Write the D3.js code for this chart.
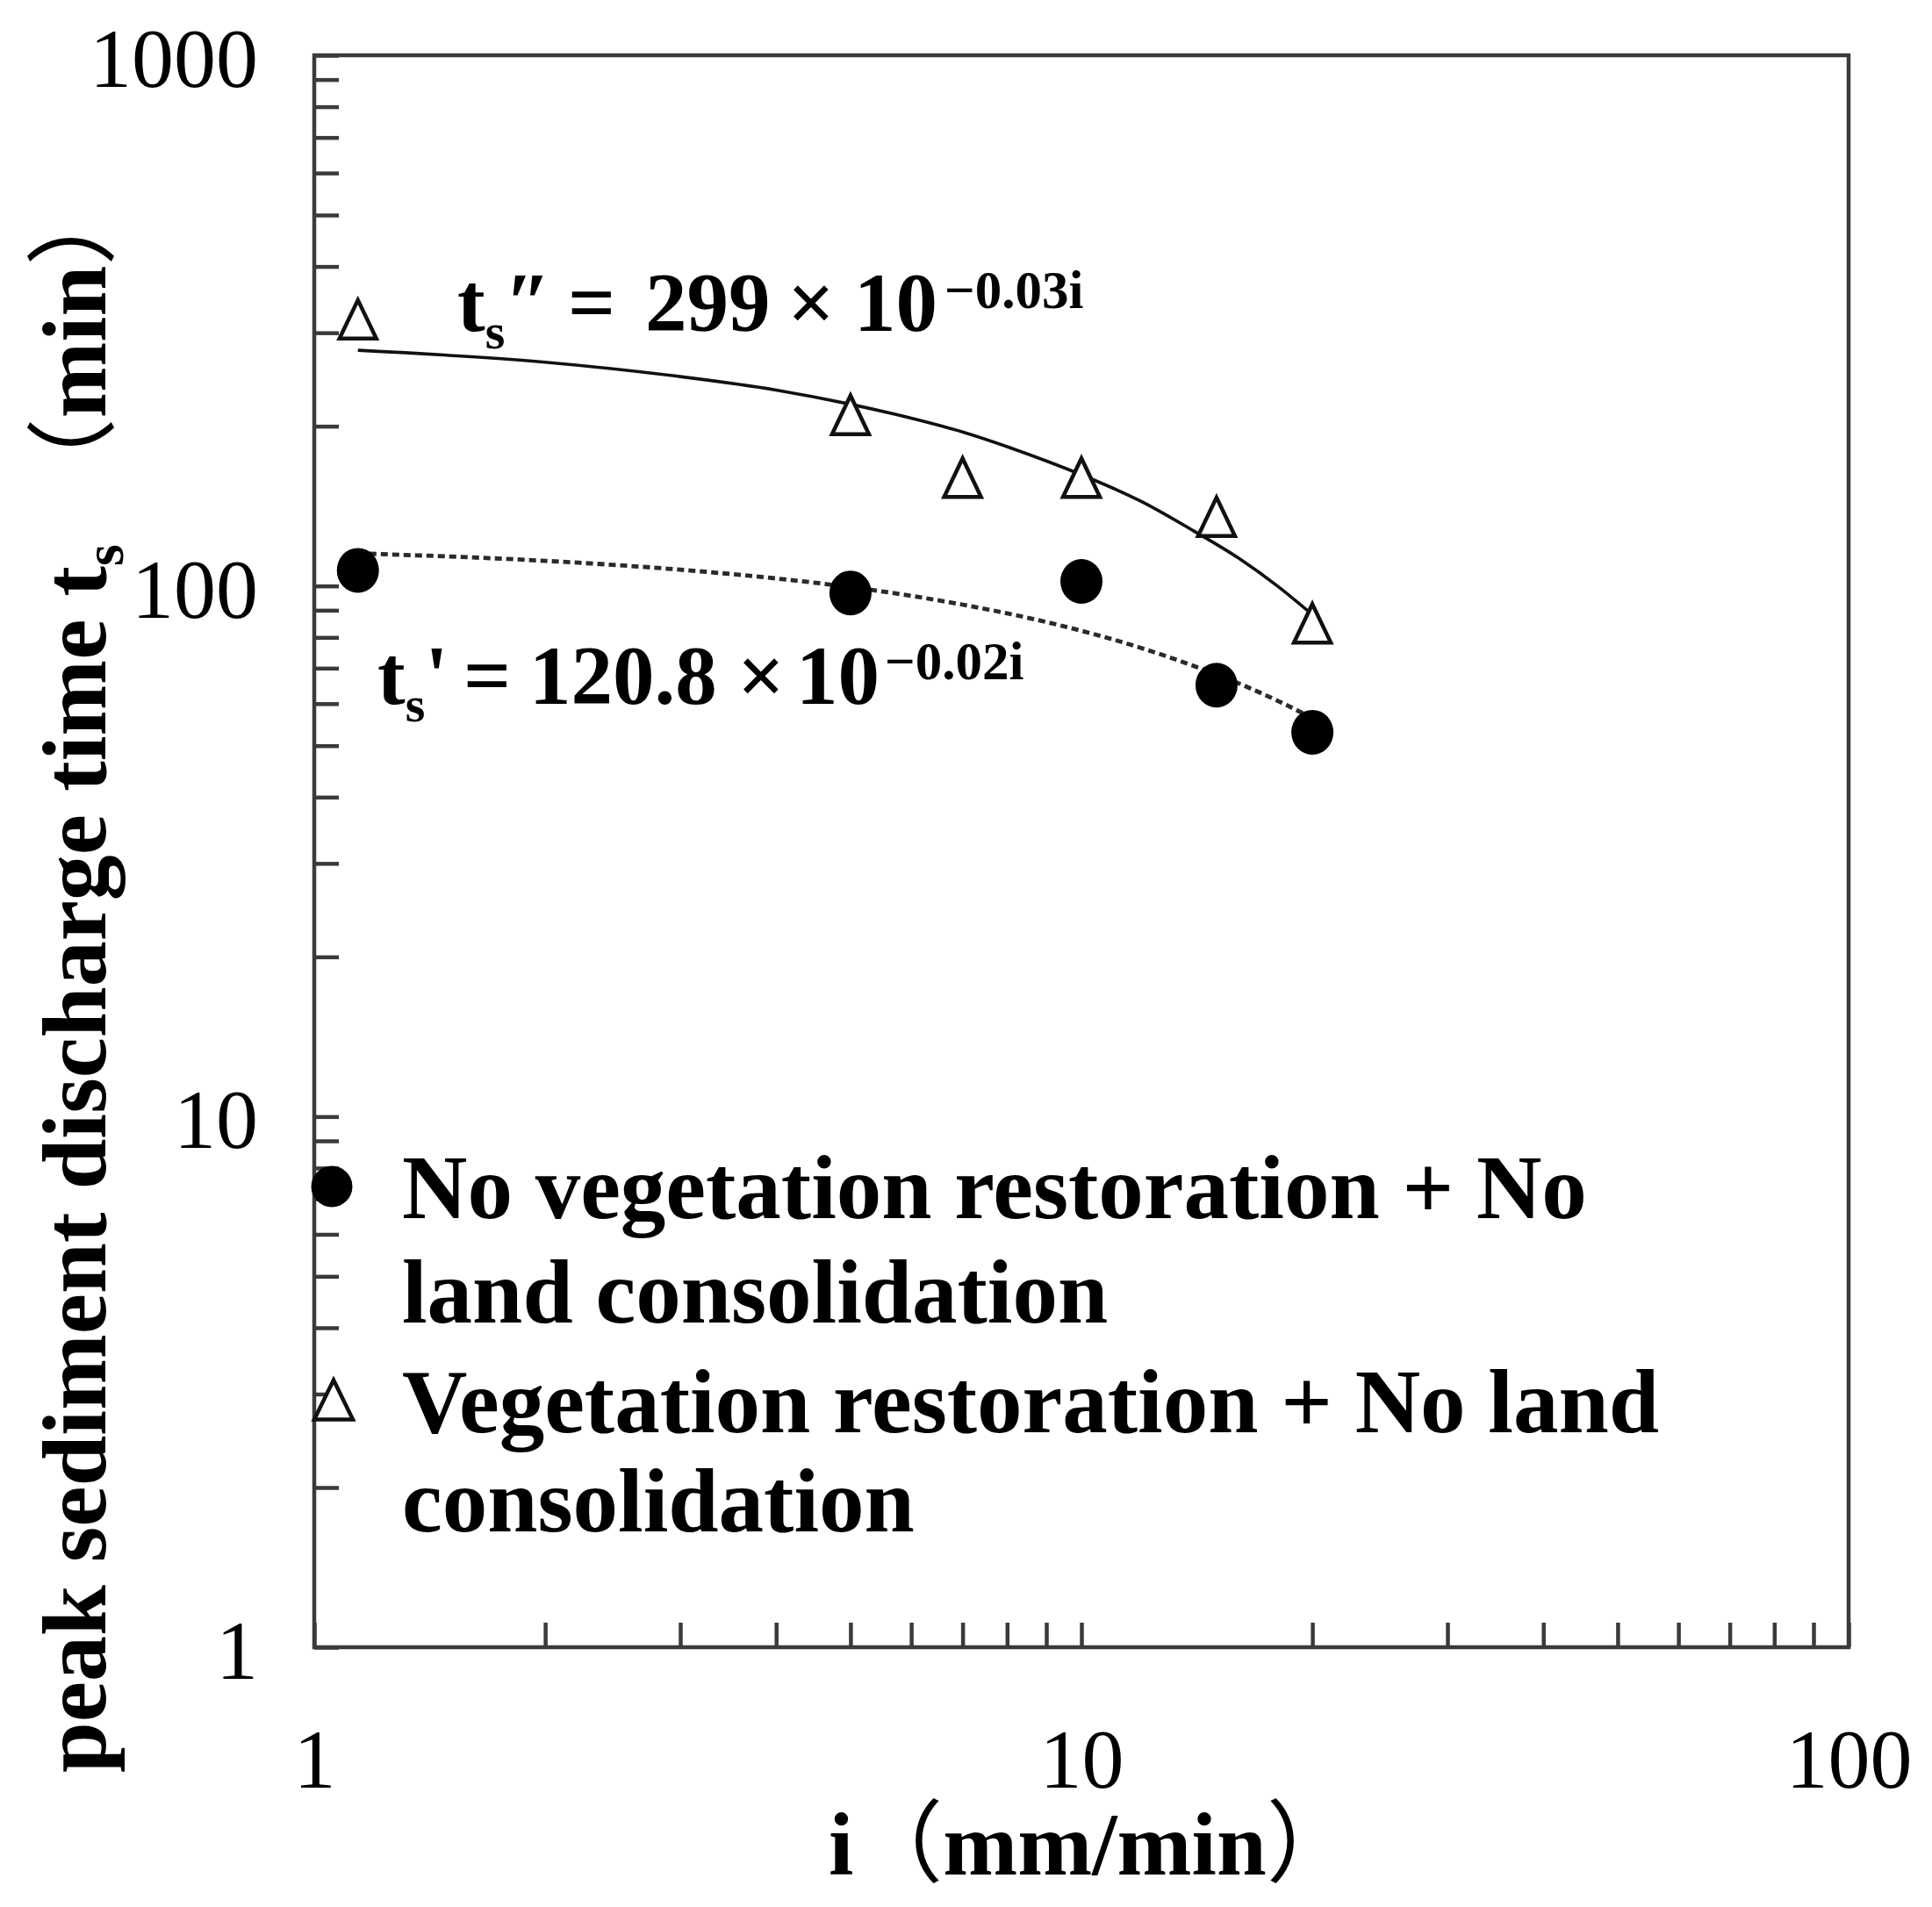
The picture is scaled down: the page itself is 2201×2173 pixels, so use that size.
<!DOCTYPE html>
<html>
<head>
<meta charset="utf-8">
<script src="https://cdn.jsdelivr.net/npm/d3@7"></script>
<style>
  html, body { margin: 0; padding: 0; background: #fff; }
  svg { display: block; }
</style>
</head>
<body>
<script>
// ---------- data ----------
const xTickLabels = ["1", "10", "100"];
const yTickLabels = ["1", "10", "100", "1000"];

// Vegetation restoration + No land consolidation (open triangles)
const vegI = [1.14, 5, 7, 10, 15, 20];
const vegT = [318, 210, 160, 160, 135, 85];

// No vegetation restoration + No land consolidation (filled circles)
const noVegI = [1.14, 5, 10, 15, 20];
const noVegT = [107, 97, 102, 65, 53];

// fitted curves as drawn in the picture (solid: t_s'', dashed: t_s')
const fitVegI = [1.14, 2, 3, 4, 5, 6, 7, 8, 9, 10, 12, 14, 16, 18, 19.94];
const fitVegT = [278, 264, 248, 234, 220, 207, 195, 183, 172, 162, 144, 127, 113, 100, 88.6];
const fitNoVegI = [1.18, 2, 3, 4, 5, 6, 7, 8, 9, 10, 12, 14, 16, 18, 19.7];
const fitNoVegT = [115, 111.5, 107.3, 103.3, 99.5, 95.8, 92.2, 88.8, 85.5, 82.3, 76.3, 70.7, 65.6, 60.8, 57];

const legendLabels = [
  ["No vegetation restoration + No", "land consolidation"],
  ["Vegetation restoration + No land", "consolidation"]
];

// ---------- layout ----------
const W = 2201, H = 2173;
const L = 358, R = 2106, T = 63, B = 1877;
const SERIF = "'Liberation Serif', 'Times New Roman', serif";
const CJK = "'Noto Sans CJK SC', 'Noto Sans CJK JP', sans-serif";

const svg = d3.select("body").append("svg")
  .attr("width", W).attr("height", H)
  .style("background", "#fff");

const x = d3.scaleLog().domain([1, 100]).range([L, R]);
const y = d3.scaleLog().domain([1, 1000]).range([B, T]);

// ---------- axes ----------
const xAxis = d3.axisBottom(x)
  .tickValues(x.ticks())
  .tickFormat(d => xTickLabels.includes(String(d)) ? String(d) : "")
  .tickSize(-28).tickSizeOuter(0).tickPadding(92);
const yAxis = d3.axisLeft(y)
  .tickValues(y.ticks())
  .tickFormat(d => yTickLabels.includes(String(d)) ? String(d) : "")
  .tickSize(-28).tickSizeOuter(0).tickPadding(64);

const gx = svg.append("g").attr("transform", `translate(0,${B})`).call(xAxis);
const gy = svg.append("g").attr("transform", `translate(${L},0)`).call(yAxis);
[gx, gy].forEach(g => {
  g.select(".domain").remove();
  g.selectAll(".tick line").attr("stroke", "#3a3a3a").attr("stroke-width", 4.5);
  g.selectAll(".tick text")
    .attr("font-family", SERIF).attr("font-size", 96).attr("fill", "#000");
});
gy.selectAll(".tick text").attr("dy", "0.37em");

// frame
svg.append("rect")
  .attr("x", L).attr("y", T).attr("width", R - L).attr("height", B - T)
  .attr("fill", "none").attr("stroke", "#3a3a3a").attr("stroke-width", 4.5);

// ---------- fitted curves ----------
const line = d3.line().x(d => x(d[0])).y(d => y(d[1])).curve(d3.curveMonotoneX);
svg.append("path")
  .attr("d", line(fitVegI.map((v, k) => [v, fitVegT[k]])))
  .attr("fill", "none").attr("stroke", "#111").attr("stroke-width", 3.6);
svg.append("path")
  .attr("d", line(fitNoVegI.map((v, k) => [v, fitNoVegT[k]])))
  .attr("fill", "none").attr("stroke", "#2a2a2a").attr("stroke-width", 4.8)
  .attr("stroke-dasharray", "8,5");

// ---------- markers ----------
const triPath = (cx, cy, w, h) =>
  `M${cx},${cy - h / 2}L${cx + w / 2},${cy + h / 2}L${cx - w / 2},${cy + h / 2}Z`;

svg.append("g").selectAll("path")
  .data(vegI.map((v, k) => [v, vegT[k]]))
  .join("path")
  .attr("d", d => triPath(x(d[0]), y(d[1]), 42, 44))
  .attr("fill", "#fff").attr("stroke", "#111").attr("stroke-width", 4.5)
  .attr("stroke-linejoin", "miter");

svg.append("g").selectAll("ellipse")
  .data(noVegI.map((v, k) => [v, noVegT[k]]))
  .join("ellipse")
  .attr("cx", d => x(d[0])).attr("cy", d => y(d[1]))
  .attr("rx", 24).attr("ry", 25.5)
  .attr("fill", "#000");

// ---------- equations ----------
function equation(parts, baseline) {
  const t = svg.append("text")
    .attr("y", baseline)
    .attr("font-family", SERIF).attr("font-weight", "bold").attr("fill", "#000");
  parts.forEach(p => {
    const s = t.append("tspan").text(p.text).attr("font-size", p.size || 95);
    if (p.x !== undefined) s.attr("x", p.x);
    if (p.y !== undefined) s.attr("y", p.y);
  });
}
equation([
  { text: "t", x: 521 },
  { text: "s", size: 58, y: 397 },
  { text: "″", y: 377 },
  { text: "=", x: 647 },
  { text: "299", x: 735 },
  { text: "×", x: 897 },
  { text: "10", x: 973 },
  { text: "−0.03i", size: 61, x: 1076, y: 351 }
], 377);
equation([
  { text: "t", x: 430 },
  { text: "s", size: 58, y: 822 },
  { text: "'", y: 802 },
  { text: "=", x: 528 },
  { text: "120.8", x: 603 },
  { text: "×", x: 840 },
  { text: "10", x: 907 },
  { text: "−0.02i", size: 61, x: 1008, y: 774 }
], 802);

// ---------- legend ----------
svg.append("ellipse").attr("cx", 378).attr("cy", 1352).attr("rx", 23.5).attr("ry", 23.5)
  .attr("fill", "#000");
svg.append("path").attr("d", triPath(380, 1595, 44, 45))
  .attr("fill", "#fff").attr("stroke", "#111").attr("stroke-width", 4.5);

const legBase = [[1388, 1507], [1632, 1745]];
legendLabels.forEach((lines, k) => {
  lines.forEach((txt, j) => {
    svg.append("text")
      .attr("x", 458).attr("y", legBase[k][j])
      .attr("font-family", SERIF).attr("font-weight", "bold")
      .attr("font-size", 103).attr("fill", "#000")
      .text(txt);
  });
});

// ---------- axis titles ----------
const xt = svg.append("text").attr("x", 944).attr("y", 2136)
  .attr("font-family", SERIF).attr("font-size", 102).attr("fill", "#000");
xt.append("tspan").attr("font-weight", "bold").text("i");
xt.append("tspan").attr("font-family", CJK).attr("font-weight", "normal").text("（");
xt.append("tspan").attr("font-weight", "bold").text("mm/min");
xt.append("tspan").attr("font-family", CJK).attr("font-weight", "normal").text("）");

const yt = svg.append("text")
  .attr("transform", "translate(120,2020) rotate(-90)")
  .attr("font-family", SERIF).attr("font-size", 104).attr("fill", "#000");
yt.append("tspan").attr("font-weight", "bold").text("peak sediment discharge time  t");
yt.append("tspan").attr("font-weight", "bold").attr("font-size", 64).attr("dy", 20).text("s");
yt.append("tspan").attr("font-family", CJK).attr("font-weight", "normal")
  .attr("dy", -20).attr("dx", 40).text("（");
yt.append("tspan").attr("font-weight", "bold").text("min");
yt.append("tspan").attr("font-family", CJK).attr("font-weight", "normal").text("）");
</script>
</body>
</html>
